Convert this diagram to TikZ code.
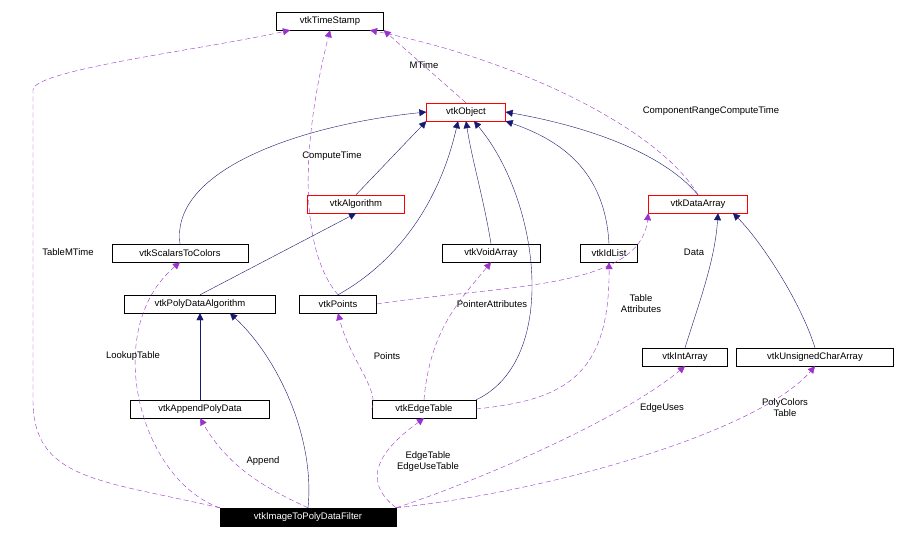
\documentclass[tikz,border=0pt]{standalone}
\usepackage{fontspec}
\setmainfont{Liberation Sans}
\usetikzlibrary{arrows.meta,positioning}
\definecolor{inh}{HTML}{191970}
\definecolor{use}{HTML}{9A32CD}
\tikzset{
  cls/.style={draw=black,fill=white,inner sep=2pt,minimum height=18pt,font=\fontsize{9.5}{11}\selectfont},
  rcls/.style={cls,draw=red},
  inherit/.style={draw=inh,-{Triangle[length=7pt,width=7pt]}},
  uses/.style={draw=use,dashed,dash pattern=on 5pt off 3pt,-{Triangle[length=7pt,width=7pt]}},
  lbl/.style={font=\fontsize{9.5}{11}\selectfont,align=center,inner sep=1pt}
}
\begin{document}
\begin{tikzpicture}[x=1pt,y=-1pt]
  \useasboundingbox (0,0) rectangle (902,535);
  % classes
  \node[cls,minimum width=107pt] (ts) at (330,21) {vtkTimeStamp};
  \node[rcls,minimum width=79pt] (obj) at (466,112) {vtkObject};
  \node[rcls,minimum width=97pt] (alg) at (356,204) {vtkAlgorithm};
  \node[rcls,minimum width=99pt] (da) at (698,204) {vtkDataArray};
  \node[cls,minimum width=136pt] (s2c) at (180,253) {vtkScalarsToColors};
  \node[cls,minimum width=98pt] (va) at (491,253) {vtkVoidArray};
  \node[cls,minimum width=57pt] (idl) at (609,253) {vtkIdList};
  \node[cls,minimum width=151pt] (pda) at (200,304) {vtkPolyDataAlgorithm};
  \node[cls,minimum width=77pt] (pts) at (338,304) {vtkPoints};
  \node[cls,minimum width=85pt] (ia) at (685,357) {vtkIntArray};
  \node[cls,minimum width=157pt] (uca) at (815,357) {vtkUnsignedCharArray};
  \node[cls,minimum width=139pt] (app) at (200,409) {vtkAppendPolyData};
  \node[cls,minimum width=104pt] (et) at (424,409) {vtkEdgeTable};
  \node[cls,minimum width=176pt,fill=black,text=white] (flt) at (308,517) {vtkImageToPolyDataFilter};
  % inheritance
  \draw[inherit] (s2c.north) .. controls (170,170) and (300,125) .. (obj.west);
  \draw[inherit] (alg.north) -- (obj.south west);
  \draw[inherit] (pts.north) .. controls (400,260) and (440,200) .. ([xshift=-8pt]obj.south);
  \draw[inherit] (va.north) .. controls (484,200) and (472,160) .. (obj.south);
  \draw[inherit] (et.north east) .. controls (560,360) and (540,200) .. ([xshift=8pt]obj.south);
  \draw[inherit] (idl.north) .. controls (605,170) and (560,140) .. (obj.south east);
  \draw[inherit] (da.north) .. controls (660,150) and (580,125) .. (obj.east);
  \draw[inherit] (pda.north) -- (alg.south);
  \draw[inherit] (app.north) -- (pda.south);
  \draw[inherit] (flt.north) .. controls (315,440) and (280,360) .. ([xshift=30pt]pda.south);
  \draw[inherit] (ia.north) .. controls (700,300) and (715,260) .. ([xshift=20pt]da.south);
  \draw[inherit] (uca.north) .. controls (800,300) and (760,240) .. ([xshift=35pt]da.south);
  % usage
  \draw[uses] (obj.north) -- (ts.south east);
  \draw[uses] (da.north) .. controls (660,130) and (520,60) .. ([xshift=40pt]ts.south);
  \draw[uses] (pts.north) .. controls (300,250) and (300,150) .. (ts.south);
  \draw[uses] (flt.north west) .. controls (100,480) and (33,480) .. (33,400) -- (33,90) .. controls (33,70) and (200,50) .. ([xshift=-40pt]ts.south);
  \draw[uses] (flt.north west) .. controls (140,480) and (100,330) .. (s2c.south);
  \draw[uses] (pts.east) .. controls (500,285) and (640,290) .. (da.south west);
  \draw[uses] (et.west) .. controls (380,390) and (350,360) .. (pts.south);
  \draw[uses] (et.north) .. controls (430,330) and (460,300) .. (va.south);
  \draw[uses] (et.east) .. controls (560,400) and (610,380) .. (idl.south);
  \draw[uses] (flt.north) .. controls (270,490) and (230,470) .. (app.south);
  \draw[uses] (flt.north east) .. controls (360,480) and (380,450) .. (et.south);
  \draw[uses] (flt.north east) .. controls (480,480) and (620,420) .. (ia.south);
  \draw[uses] (flt.north east) .. controls (560,490) and (760,430) .. (uca.south);
  % labels
  \node[lbl] (lMTime) at (424,65) {MTime};
  \node[lbl] (lCRCT) at (711,111) {ComponentRangeComputeTime};
  \node[lbl] (lCT) at (332,156) {ComputeTime};
  \node[lbl] (lTMT) at (68,252) {TableMTime};
  \node[lbl] (lData) at (694,252) {Data};
  \node[lbl] (lPA) at (492,304) {PointerAttributes};
  \node[lbl] (lTA) at (641,304) {Table\\Attributes};
  \node[lbl] (lLT) at (133,356) {LookupTable};
  \node[lbl] (lPts) at (387,356) {Points};
  \node[lbl] (lEU) at (662,408) {EdgeUses};
  \node[lbl] (lPCT) at (785,408) {PolyColors\\Table};
  \node[lbl] (lApp) at (263,461) {Append};
  \node[lbl] (lET) at (428,462) {EdgeTable\\EdgeUseTable};
\end{tikzpicture}
\end{document}
